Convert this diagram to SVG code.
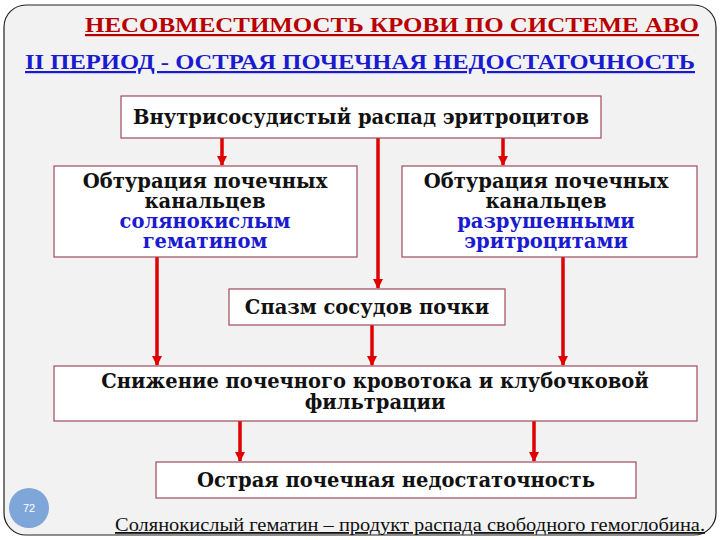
<svg xmlns="http://www.w3.org/2000/svg" width="720" height="540" viewBox="0 0 720 540">
<defs>
<style>
.box{fill:#fff;stroke:#a04a5e;stroke-width:1.2}
.bt{font-family:"DejaVu Serif","Liberation Serif",serif;font-weight:bold;font-size:19.5px;fill:#111;text-anchor:middle}
.blue{fill:#1a1ad0}
.ar{stroke:#e00000;stroke-width:3.5;fill:none;marker-end:url(#ah)}
</style>
<marker id="ah" viewBox="0 0 10 10" refX="9" refY="5" markerWidth="3" markerHeight="3" orient="auto" markerUnits="strokeWidth"><path d="M0,0L10,5L0,10z" fill="#e00000"/></marker>
</defs>
<rect x="4" y="5" width="712" height="530" rx="22" fill="#f2f2f2" stroke="#222" stroke-width="1.2"/>
<text x="392" y="32" text-anchor="middle" font-family="Liberation Serif,serif" font-weight="bold" font-size="22" fill="#b80000" text-decoration="underline" textLength="614" lengthAdjust="spacingAndGlyphs">НЕСОВМЕСТИМОСТЬ КРОВИ ПО СИСТЕМЕ АВО</text>
<text x="360" y="69" text-anchor="middle" font-family="Liberation Serif,serif" font-weight="bold" font-size="22" fill="#1a1ad0" text-decoration="underline" textLength="670" lengthAdjust="spacingAndGlyphs">II  ПЕРИОД - ОСТРАЯ ПОЧЕЧНАЯ НЕДОСТАТОЧНОСТЬ</text>
<g id="connectors">
<line class="ar" x1="222" y1="138" x2="222" y2="165"/>
<line class="ar" x1="378" y1="138" x2="378" y2="288"/>
<line class="ar" x1="503" y1="138" x2="503" y2="165"/>
<line class="ar" x1="157" y1="257" x2="157" y2="365"/>
<line class="ar" x1="372" y1="325" x2="372" y2="365"/>
<line class="ar" x1="563" y1="257" x2="563" y2="365"/>
<line class="ar" x1="240" y1="421" x2="240" y2="461"/>
<line class="ar" x1="534" y1="421" x2="534" y2="461"/>
</g>
<g id="n1"><rect class="box" x="121" y="96" width="480" height="42"/><text class="bt" x="361" y="124">Внутрисосудистый распад эритроцитов</text></g>
<g id="n2"><rect class="box" x="54" y="166" width="303" height="91" stroke="#ddd"/><text class="bt" x="205" y="188">Обтурация почечных<tspan x="205" dy="20">канальцев</tspan><tspan class="blue" x="205" dy="20">солянокислым</tspan><tspan class="blue" x="205" dy="20">гематином</tspan></text></g>
<g id="n3"><rect class="box" x="402" y="166" width="295" height="91"/><text class="bt" x="546" y="188">Обтурация почечных<tspan x="546" dy="20">канальцев</tspan><tspan class="blue" x="546" dy="20">разрушенными</tspan><tspan class="blue" x="546" dy="20">эритроцитами</tspan></text></g>
<g id="n4"><rect class="box" x="229" y="289" width="276" height="36"/><text class="bt" x="367" y="314">Спазм сосудов почки</text></g>
<g id="n5"><rect class="box" x="54" y="366" width="643" height="55"/><text class="bt" x="375" y="388">Снижение почечного кровотока и клубочковой<tspan x="375" dy="21">фильтрации</tspan></text></g>
<g id="n6"><rect class="box" x="156" y="462" width="480" height="36"/><text class="bt" x="396" y="487">Острая почечная недостаточность</text></g>
<circle cx="29" cy="508" r="20" fill="#7ea6d8"/>
<text x="29" y="512" text-anchor="middle" font-family="Liberation Sans,sans-serif" font-size="11" fill="#fff">72</text>
<text x="115" y="531" font-family="Liberation Serif,serif" font-size="18" fill="#111" text-decoration="underline" textLength="590" lengthAdjust="spacingAndGlyphs">Солянокислый гематин – продукт распада свободного гемоглобина.</text>
</svg>
